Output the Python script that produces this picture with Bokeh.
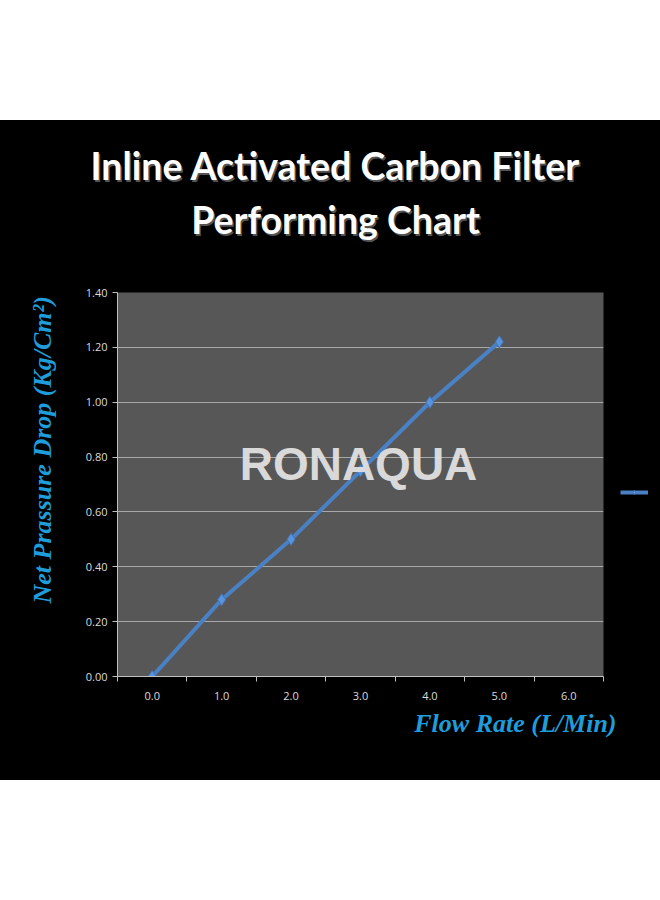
from bokeh.plotting import figure
from bokeh.models import Label, FixedTicker, Legend, LegendItem, Spacer, Title
from bokeh.layouts import column, row
from bokeh.embed import file_html
from bokeh.resources import INLINE

# ---- data ----
flow_rate = [0, 1, 2, 3, 4, 5]
pressure_drop = [0.00, 0.28, 0.50, 0.75, 1.00, 1.22]
x_tick_values = [0, 1, 2, 3, 4, 5, 6]
x_tick_labels = ["0.0", "1.0", "2.0", "3.0", "4.0", "5.0", "6.0"]
y_tick_values = [0.0, 0.2, 0.4, 0.6, 0.8, 1.0, 1.2, 1.4]
title_lines = ["Inline Activated Carbon Filter", "Performing Chart"]
x_label = "Flow Rate (L/Min)"
y_label = "Net Prassure Drop (Kg/Cm\u00b2)"
logo_text = "RONAQUA"

BLUE = "#4a80c4"
LABEL_BLUE = "#1f9ddb"
BG = "#000000"

# ---------- header with the two title lines ----------
head = figure(width=660, height=162, min_border=0, x_range=(0, 660), y_range=(0, 162),
              x_axis_location=None, y_axis_location=None,
              output_backend="svg", toolbar_location=None)
head.background_fill_color = BG
head.border_fill_color = BG
head.outline_line_color = None
head.grid.visible = False
for txt, ty in zip(title_lines, [117, 63]):
    head.add_layout(Label(x=336.5, y=ty - 1.5, text=txt, text_font="Lato",
                          text_font_style="bold", text_font_size="37.5px",
                          text_color="#7a7a7a", text_alpha=0.7,
                          text_align="center", text_baseline="middle"))
    head.add_layout(Label(x=335, y=ty, text=txt, text_font="Lato",
                          text_font_style="bold", text_font_size="37.5px",
                          text_color="#ffffff",
                          text_align="center", text_baseline="middle"))

# ---------- main chart ----------
p = figure(frame_width=486, frame_height=384,
           min_border_left=117, min_border_right=15,
           min_border_top=10, min_border_bottom=104,
           x_range=(-0.5, 6.5), y_range=(0, 1.4),
           output_backend="svg", toolbar_location=None)
p.background_fill_color = "#575757"
p.border_fill_color = BG
p.outline_line_color = None

p.xaxis.ticker = FixedTicker(ticks=x_tick_values,
                             minor_ticks=[v - 0.5 for v in x_tick_values] + [6.5])
p.xaxis.major_label_overrides = {v: s for v, s in zip(x_tick_values, x_tick_labels)}
p.xaxis.major_tick_out = 0
p.xaxis.major_tick_in = 0
p.xaxis.minor_tick_out = 5
p.xaxis.minor_tick_in = 0
p.xaxis.major_label_standoff = 10
p.yaxis.ticker = FixedTicker(ticks=y_tick_values)
p.yaxis.major_label_overrides = {v: "%.2f" % v for v in y_tick_values}
p.yaxis.major_tick_out = 5
p.yaxis.major_tick_in = 0
p.yaxis.minor_tick_line_color = None
p.yaxis.major_label_standoff = 5
for ax in (p.xaxis, p.yaxis):
    ax.axis_line_color = "#bfbfbf"
    ax.major_tick_line_color = "#bfbfbf"
    ax.major_label_text_color = "#dcdcdc"
    ax.major_label_text_font = "Open Sans"
    ax.major_label_text_font_size = "11px"
p.xaxis.minor_tick_line_color = "#bfbfbf"

# axis titles as Titles so they can sit off-centre like the reference
p.add_layout(Title(text=y_label, align="left", offset=73, standoff=51,
                   text_font="Liberation Serif", text_font_style="bold italic",
                   text_font_size="26px", text_color=LABEL_BLUE), "left")
p.add_layout(Title(text=x_label, align="right", offset=-13, standoff=9,
                   text_font="Liberation Serif", text_font_style="bold italic",
                   text_font_size="26px", text_color=LABEL_BLUE), "below")

p.xgrid.grid_line_color = None
p.ygrid.grid_line_color = "#a8a8a8"
p.ygrid.grid_line_width = 1

p.line(flow_rate, pressure_drop, line_color=BLUE, line_width=4)
p.scatter(flow_rate, pressure_drop, marker="diamond", size=12,
          fill_color="#5b92dc", line_color="#3f75b8")

# logo watermark (frame-relative screen units)
p.add_layout(Label(x=241, y=213, x_units="screen", y_units="screen", text=logo_text,
                   text_font="Liberation Sans", text_font_style="bold",
                   text_font_size="46px", text_color="#e2e2e2", text_alpha=0.95,
                   text_align="center", text_baseline="middle"))

# ---------- legend strip at the right ----------
leg = figure(width=42, height=498, min_border=0, min_border_top=10,
             min_border_bottom=104, x_range=(0, 1), y_range=(0, 1),
             x_axis_location=None, y_axis_location=None,
             output_backend="svg", toolbar_location=None)
leg.background_fill_color = BG
leg.border_fill_color = BG
leg.outline_line_color = None
leg.grid.visible = False
# key renderers: one point each, placed outside the visible range so only the key shows
lk = leg.line([flow_rate[-1]], [pressure_drop[-1]], line_color=BLUE, line_width=4)
sk = leg.scatter([flow_rate[-1]], [pressure_drop[-1]], marker="diamond", size=11,
                 fill_color="#6a9de0", line_color="#3f75b8")
legend = Legend(items=[LegendItem(label="a", renderers=[lk, sk])],
                location=(2, 179), padding=0, margin=0, spacing=0,
                glyph_width=28, glyph_height=10, label_standoff=0,
                label_width=0, label_text_font_size="4px", label_text_alpha=0,
                border_line_alpha=0, background_fill_alpha=0)
leg.add_layout(legend, "center")

body = column(head, row(p, leg, spacing=0), spacing=0,
              styles={"background-color": BG})
layout = column(Spacer(width=660, height=120), body,
                Spacer(width=660, height=120), spacing=0)
open("out.html", "w").write(file_html(layout, INLINE))
